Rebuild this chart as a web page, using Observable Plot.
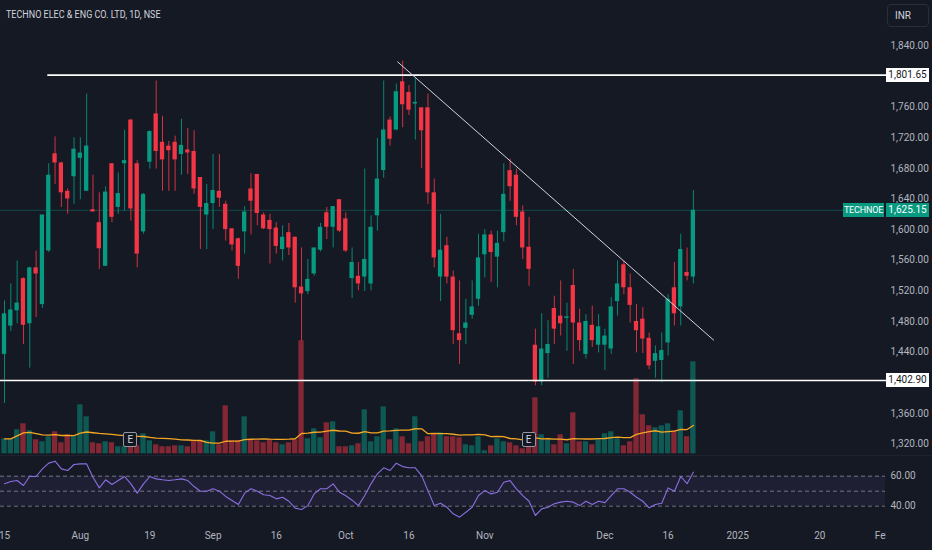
<!DOCTYPE html>
<html>
<head>
<meta charset="utf-8">
<title>TECHNOE</title>
<script src="https://cdn.jsdelivr.net/npm/d3@7"></script>
<script src="https://cdn.jsdelivr.net/npm/@observablehq/plot@0.6"></script>
<style>
  html, body { margin: 0; padding: 0; background: #151924; }
  #chart { position: relative; width: 932px; height: 550px; overflow: hidden; background: #151924; font-family: Roboto, "Liberation Sans", sans-serif; }
  #chart svg { position: absolute; left: 0; top: 0; }
  .tag { position: absolute; height: 14px; line-height: 14px; font-size: 10px; box-sizing: border-box; white-space: nowrap; text-align: center; overflow: hidden; }
</style>
</head>
<body>
<div id="chart"></div>
<script>
// ---------- data ----------
const title = "TECHNO ELEC & ENG CO. LTD, 1D, NSE";
const currency = "INR";
const symbol = "TECHNOE";

// daily bars, index 0 = 15 Jul 2024 … index 109 = 20 Dec 2024
const openP = [1437,1474,1494,1536,1477,1550,1502,1572,1699,1687,
  1650,1669,1693,1650,1626,1609,1552,1686,1629,1686,
  1743,1686,1597,1688,1751,1714,1709,1714,1698,1704,
  1702,1668,1619,1634,1650,1633,1601,1588,1597,1653,
  1672,1619,1612,1602,1574,1596,1590,1525,1519,1542,
  1573,1622,1603,1639,1614,1536,1539,1538,1529,1618,
  1677,1743,1730,1793,1779,1764,1759,1759,1648,1538,
  1579,1538,1464,1471,1488,1509,1567,1593,1564,1596,
  1677,1671,1623,1577,1449,1401,1438,1497,1487,1484,
  1527,1478,1437,1475,1449,1449,1444,1506,1554,1524,
  1480,1483,1458,1428,1429,1452,1524,1499,1544,1538];
const highP = [1507,1529,1559,1537,1551,1572,1619,1686,1721,1688,
  1653,1720,1720,1777,1671,1648,1656,1686,1674,1730,
  1744,1690,1647,1729,1794,1748,1715,1722,1744,1732,
  1729,1668,1659,1698,1698,1637,1601,1589,1630,1673,
  1672,1622,1620,1609,1605,1608,1590,1576,1561,1576,
  1608,1629,1630,1639,1622,1576,1557,1679,1618,1719,
  1794,1747,1790,1820,1788,1797,1759,1777,1666,1620,
  1590,1546,1533,1509,1533,1594,1600,1598,1598,1686,
  1692,1679,1631,1616,1470,1490,1481,1513,1533,1504,
  1548,1496,1489,1500,1489,1470,1511,1559,1559,1542,
  1502,1498,1465,1448,1465,1515,1557,1594,1576,1651];
const lowP = [1373,1467,1477,1450,1419,1485,1497,1570,1659,1629,
  1620,1633,1639,1650,1623,1548,1552,1609,1620,1624,
  1611,1550,1594,1679,1679,1650,1650,1650,1671,1672,
  1646,1574,1574,1600,1629,1585,1572,1535,1568,1593,
  1605,1600,1555,1568,1559,1566,1504,1454,1515,1539,
  1571,1587,1576,1596,1570,1510,1520,1519,1520,1598,
  1667,1709,1729,1733,1749,1717,1680,1633,1550,1506,
  1529,1450,1424,1450,1483,1500,1537,1531,1524,1584,
  1637,1605,1561,1526,1396,1396,1406,1450,1461,1441,
  1424,1441,1431,1446,1439,1416,1437,1487,1515,1478,
  1439,1438,1417,1406,1400,1435,1474,1474,1533,1529];
const closeP = [1490,1495,1504,1475,1550,1542,1619,1671,1687,1648,
  1640,1705,1700,1709,1623,1575,1649,1616,1647,1690,
  1627,1568,1646,1728,1702,1691,1703,1691,1710,1700,
  1653,1629,1634,1651,1641,1600,1580,1552,1623,1637,
  1621,1601,1600,1578,1590,1576,1524,1516,1535,1576,
  1603,1603,1630,1598,1572,1557,1529,1561,1603,1666,
  1730,1718,1780,1763,1756,1766,1729,1648,1563,1573,
  1538,1468,1455,1478,1499,1563,1593,1570,1582,1646,
  1656,1616,1576,1548,1401,1444,1450,1470,1477,1486,
  1478,1455,1480,1455,1473,1461,1499,1529,1524,1501,
  1468,1457,1422,1438,1442,1509,1490,1574,1539,1625.15];
// volume, thousand shares
const volumeK = [300,300,480,600,460,280,240,340,440,220,
  380,340,980,740,220,200,240,220,140,140,
  180,160,400,260,180,140,140,160,160,140,
  260,260,260,440,180,960,260,260,740,280,
  260,220,280,220,180,220,280,2260,300,500,
  320,620,640,140,140,160,200,880,240,340,
  940,280,500,340,200,740,240,340,400,420,
  340,340,320,180,160,340,60,160,300,240,
  220,160,100,160,1120,380,280,180,380,200,
  820,240,240,180,300,400,440,300,160,240,
  1500,780,560,520,560,600,460,860,340,1840];
// RSI(14)
const rsiV = [55,56.5,57.1,53.8,60,59.8,64.9,68.7,70,64.9,
  63.8,67.8,68.2,68.2,59.3,52.2,57.6,54.5,57.1,59.8,
  54.9,48.7,54.9,59.8,58.2,57.6,57.1,57.6,58.2,57.1,
  53.1,50,50,51.6,50,46.5,43.8,41.1,48.7,51.6,
  50,47.6,47.1,44.9,46,43.3,38.7,37.8,40.4,48.2,
  51.6,51.6,54.9,49.3,47,44,40.4,47.1,54.9,61.6,
  65.6,63.8,68.7,66.4,65.6,65.6,60.4,50.4,40.4,42,
  39.3,34.9,32.7,36,39.3,47.1,50.4,48.2,49.3,56,
  57.1,51.6,47.1,43.3,33.8,38.2,39.3,41.6,42.7,43.3,
  42.7,40.4,43.3,41.1,43.3,42.4,47.1,51.6,51.6,49.3,
  46,43.3,38.9,41.1,42,52.2,50,59.8,55,62.7];

// earnings markers (bar index)
const earnings = [20, 83];
// drawings
const levelPrices = [1801.65, 1402.90];
const levelFromBar = [6.85, -1];
const trendLine = [{bar: 62.2, price: 1819}, {bar: 112.2, price: 1455.7}];

// axis ticks (1,800 and 1,400 are hidden under the level tags)
const priceTicks = [1320,1360,1440,1480,1520,1560,1600,1640,1680,1720,1760,1840];
const rsiTicks = [60, 40];
const rsiLevels = [60, 50, 40];
const dateTickBars = [0,12,23,33,43,54,64,76,95,105,116,129,139];
const dateTickLabels = ["15","Aug","19","Sep","16","Oct","16","Nov","Dec","16","2025","20","Feb"];

// ---------- chart ----------
const W = 932, H = 550, PANE_RIGHT = 885;
const UP = "#089981", DOWN = "#f23645";
const TXT = "#b2b5be";
const bars = d3.range(closeP.length).map(i => ({
  i, open: openP[i], high: highP[i], low: lowP[i], close: closeP[i],
  volume: volumeK[i], rsi: rsiV[i], color: closeP[i] >= openP[i] ? UP : DOWN
}));
const last = bars[bars.length - 1];
const xs = (axis) => ({type: "linear", domain: [0, 139], range: [4, 4 + 139 * 6.32], axis});
const baseStyle = {background: "transparent", color: TXT, fontFamily: "Roboto, sans-serif", fontSize: "10px"};
const chart = document.getElementById("chart");

// volume overlay
const volPlot = Plot.plot({
  width: W, height: 456, margin: 0, marginRight: W - PANE_RIGHT,
  x: xs(null), y: {domain: [0, 2400], range: [453.3, 333.3], axis: null},
  color: {type: "identity"},
  style: baseStyle,
  marks: [
    Plot.rect(bars, {x1: d => d.i - 0.42, x2: d => d.i + 0.42, y1: 0, y2: "volume", fill: "color", fillOpacity: 0.5}),
    Plot.lineY(bars, Plot.windowY({k: 20, anchor: "end", reduce: "mean"}, {x: "i", y: "volume", stroke: "#f5a623", strokeWidth: 1.3}))
  ]
});
chart.appendChild(volPlot);

// price pane
const levels = levelPrices.map((p, k) => ({price: p, from: levelFromBar[k]}));
const pricePlot = Plot.plot({
  width: W, height: 456, margin: 0, marginRight: W - PANE_RIGHT,
  x: xs(null), y: {domain: [1320, 1840], range: [443.5, 45.3]},
  color: {type: "identity"},
  style: baseStyle,
  marks: [
    Plot.ruleY([last.close], {stroke: UP, strokeOpacity: 0.4, strokeWidth: 1}),
    Plot.ruleX(bars, {x: "i", y1: "low", y2: "high", stroke: "color", strokeWidth: 1, strokeOpacity: 0.85}),
    Plot.rect(bars, {x1: d => d.i - 0.34, x2: d => d.i + 0.34, y1: "open", y2: "close", fill: "color"}),
    Plot.ruleY(levels, {y: "price", x1: "from", x2: 140, stroke: "#ffffff", strokeWidth: 1.6}),
    Plot.line(trendLine, {x: "bar", y: "price", stroke: "#d1d4dc", strokeWidth: 1}),
    Plot.axisY(priceTicks, {anchor: "right", tickSize: 0, tickPadding: 5, label: null, tickFormat: d3.format(",.2f"), fill: TXT})
  ]
});
chart.appendChild(pricePlot);

// RSI pane
const rsiPlot = Plot.plot({
  width: W, height: H, margin: 0, marginRight: W - PANE_RIGHT,
  x: xs(null), y: {domain: [40, 60], range: [505.7, 475.7]},
  style: baseStyle,
  marks: [
    Plot.rect([[40, 60]], {y1: d => d[0], y2: d => d[1], fill: "#7e57c2", fillOpacity: 0.1}),
    Plot.ruleY(rsiLevels, {stroke: "#9598a1", strokeDasharray: "4,3", strokeOpacity: 0.7}),
    Plot.line(bars, {x: "i", y: "rsi", stroke: "#8a6fdf", strokeWidth: 1.1}),
    Plot.axisY(rsiTicks, {anchor: "right", tickSize: 0, tickPadding: 5, label: null, tickFormat: d3.format(".2f"), fill: TXT})
  ]
});
chart.appendChild(rsiPlot);

// time axis (clipped at the price-scale edge)
const axisPlot = Plot.plot({
  width: PANE_RIGHT + 1, height: H, margin: 0, marginBottom: 20,
  x: xs(undefined),
  style: baseStyle,
  marks: [
    Plot.axisX(dateTickBars, {tickSize: 0, tickPadding: 1, label: null, tickFormat: b => dateTickLabels[dateTickBars.indexOf(b)], fill: TXT})
  ]
});
chart.appendChild(axisPlot);

// pane separator
const sep = document.createElement("div");
Object.assign(sep.style, {position: "absolute", left: "0px", top: "455px", width: W + "px", height: "1px", background: "#1f2330"});
chart.appendChild(sep);

// html tags
function tag(text, left, top, width, bg, color, extra = {}) {
  const d = document.createElement("div");
  d.className = "tag";
  d.textContent = text;
  Object.assign(d.style, {left: left + "px", top: top + "px", width: width + "px", background: bg, color}, extra);
  chart.appendChild(d);
  return d;
}
const py = pricePlot.scale("y");
const fmt = d3.format(",.2f");
levelPrices.forEach(p => tag(fmt(p), PANE_RIGHT + 1, py.apply(p) - 7, 43, "#ffffff", "#131722"));
tag(symbol, PANE_RIGHT - 42, py.apply(last.close) - 7, 41, UP, "#ffffff", {fontSize: "9px", letterSpacing: "-0.2px"});
tag(fmt(last.close), PANE_RIGHT + 1, py.apply(last.close) - 7, 43, UP, "#ffffff");

// earnings markers
const vx = volPlot.scale("x"), vy = volPlot.scale("y");
earnings.forEach(b => {
  tag("E", vx.apply(b) - 7, vy.apply(0) - 21, 14, "#131722", "#d1d4dc",
    {border: "1px solid #9598a1", borderRadius: "2px", height: "15px", lineHeight: "13px", fontSize: "10px"});
});

// title and currency
const t = document.createElement("div");
t.textContent = title;
Object.assign(t.style, {position: "absolute", left: "6px", top: "9px", fontSize: "10px", color: "#d1d4dc", whiteSpace: "nowrap",
  transform: "scaleX(0.9)", transformOrigin: "0 0"});
chart.appendChild(t);
const cur = document.createElement("div");
cur.textContent = currency;
Object.assign(cur.style, {position: "absolute", left: "887px", top: "4px", width: "42px", height: "23px", boxSizing: "border-box",
  border: "1px solid #2a2e39", borderRadius: "4px", color: "#d1d4dc", fontSize: "10px", lineHeight: "21px", paddingLeft: "7px"});
chart.appendChild(cur);
</script>
</body>
</html>
